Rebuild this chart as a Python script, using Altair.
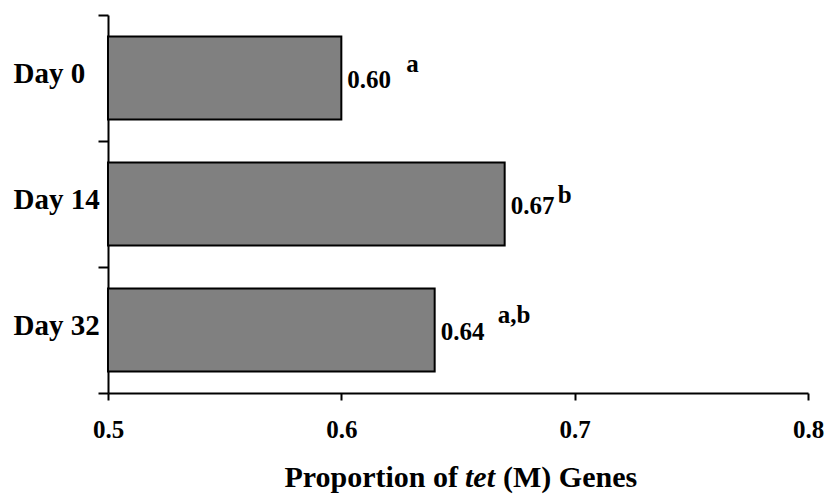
import altair as alt
import pandas as pd

days = ["Day 0", "Day 14", "Day 32"]
proportions = [0.60, 0.67, 0.64]
letters = ["a", "b", "a,b"]
x_ticks = [0.5, 0.6, 0.7, 0.8]
title_parts = ["Proportion of", "tet", "(M) Genes"]

df = pd.DataFrame({"day": days, "prop": proportions, "letter": letters})

FONT = "Liberation Serif"

y_scale = alt.Scale(paddingInner=0, paddingOuter=0)
x_scale = alt.Scale(domain=[0.5, 0.8], zero=False, nice=False)

y_axis = alt.Axis(
    title=None,
    tickBand="extent",
    tickSize=10,
    tickWidth=2,
    tickColor="black",
    domainColor="black",
    domainWidth=2,
    labelFont=FONT,
    labelFontSize=29,
    labelFontWeight="bold",
    labelColor="black",
    labelAlign="left",
    labelBaseline="middle",
    labelPadding=85,
    labelOffset=-5,
)

x_axis = alt.Axis(
    title=None,
    values=x_ticks,
    format=".1f",
    grid=False,
    tickSize=7,
    tickWidth=2,
    tickColor="black",
    domainColor="black",
    domainWidth=2,
    labelFont=FONT,
    labelFontSize=25,
    labelFontWeight="bold",
    labelColor="black",
    labelPadding=17,
    labelFlush=False,
)


def xe():
    return alt.X("prop:Q", scale=x_scale, axis=x_axis)


def ye():
    return alt.Y("day:N", sort=days, scale=y_scale, axis=y_axis)


base = alt.Chart(df)

bars = base.mark_bar(
    color="#808080", stroke="black", strokeWidth=2, height=alt.RelativeBandSize(0.66)
).encode(x=xe(), x2=alt.datum(0.5), y=ye())

values_txt = base.mark_text(
    align="left", baseline="alphabetic", dx=6, dy=10,
    font=FONT, fontSize=25, fontWeight="bold", color="black",
).encode(x=xe(), y=ye(), text=alt.Text("prop:Q", format=".2f"))

letter_offsets = {"Day 0": (65, -6), "Day 14": (53, -1), "Day 32": (63, -7)}
letter_layers = []
for d in days:
    dx, dy = letter_offsets[d]
    letter_layers.append(
        base.transform_filter(alt.datum.day == d).mark_text(
            align="left", baseline="alphabetic", dx=dx, dy=dy,
            font=FONT, fontSize=25, fontWeight="bold", color="black",
        ).encode(x=xe(), y=ye(), text="letter:N")
    )

# x-axis title with italic "tet" (plot-area coordinates)
tdf = pd.DataFrame({"t": title_parts, "i": [0, 1, 2]})
tb = alt.Chart(tdf)
TY = 463
t1 = tb.transform_filter(alt.datum.i == 0).mark_text(
    align="right", baseline="middle", font=FONT, fontSize=30, fontWeight="bold", color="black"
).encode(x=alt.value(350), y=alt.value(TY), text="t:N")
t2 = tb.transform_filter(alt.datum.i == 1).mark_text(
    align="left", baseline="middle", font=FONT, fontSize=30, fontWeight="bold", fontStyle="italic", color="black"
).encode(x=alt.value(357), y=alt.value(TY), text="t:N")
t3 = tb.transform_filter(alt.datum.i == 2).mark_text(
    align="left", baseline="middle", font=FONT, fontSize=30, fontWeight="bold", color="black"
).encode(x=alt.value(395), y=alt.value(TY), text="t:N")

chart = alt.layer(bars, values_txt, *letter_layers, t1, t2, t3).properties(
    width=700,
    height=378,
    autosize=alt.AutoSizeParams(type="none"),
    padding={"left": 108, "top": 15, "right": 19, "bottom": 103},
).configure(background="white").configure_view(stroke=None)

chart.save("out.html", embed_options={"renderer": "svg", "actions": False})
